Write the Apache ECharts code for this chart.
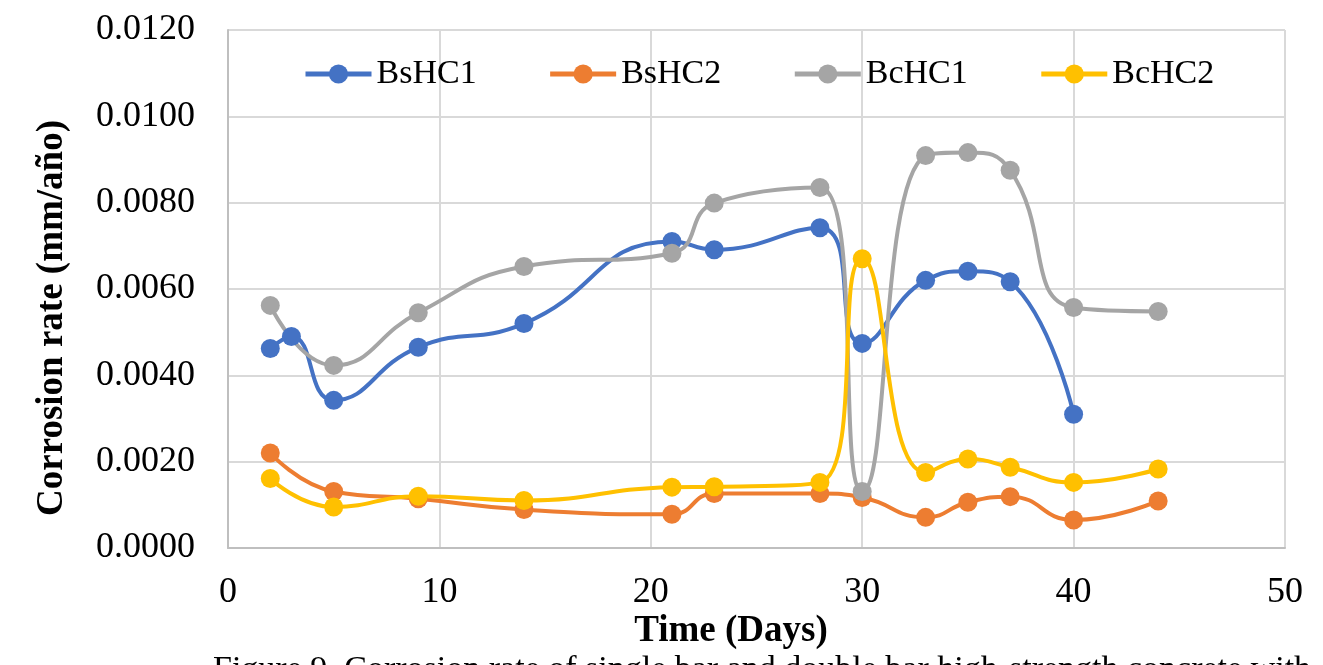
<!DOCTYPE html>
<html>
<head>
<meta charset="utf-8">
<script src="https://cdn.jsdelivr.net/npm/echarts@6/dist/echarts.min.js"></script>
<style>
  html, body { margin: 0; padding: 0; background: #fff; }
  #chart { width: 1323px; height: 665px; }
</style>
</head>
<body>
<div id="chart"></div>
<script>
var daysBsHC1 = [2, 3, 5, 9, 14, 21, 23, 28, 30, 33, 35, 37, 40];
var daysOther = [2, 5, 9, 14, 21, 23, 28, 30, 33, 35, 37, 40, 44];

var bsHC1 = [0.00462, 0.00490, 0.00342, 0.00465, 0.00520, 0.00710, 0.00691, 0.00742, 0.00474, 0.00620, 0.00641, 0.00617, 0.00310];
var bsHC2 = [0.00220, 0.00131, 0.00114, 0.00089, 0.00078, 0.00126, 0.00126, 0.00117, 0.00071, 0.00106, 0.00119, 0.00065, 0.00109];
var bcHC1 = [0.00562, 0.00423, 0.00545, 0.00652, 0.00683, 0.00799, 0.00835, 0.00131, 0.00909, 0.00916, 0.00875, 0.00557, 0.00548];
var bcHC2 = [0.00161, 0.00095, 0.00120, 0.00110, 0.00141, 0.00142, 0.00152, 0.00670, 0.00175, 0.00206, 0.00187, 0.00152, 0.00183];

var names = ['BsHC1', 'BsHC2', 'BcHC1', 'BcHC2'];
var colors = ['#4472C4', '#ED7D31', '#A5A5A5', '#FFC000'];
var xTitle = 'Time (Days)';
var yTitle = 'Corrosion rate (mm/año)';
var caption = 'Figure 9. Corrosion rate of single bar and double bar high-strength concrete with';

function pairs(days, vals) {
    return days.map(function (d, k) { return [d, vals[k]]; });
}

var serif = '"Liberation Serif", "Times New Roman", serif';

function lineSeries(name, color, data) {
    return {
        name: name,
        type: 'line',
        smooth: 0.5,
        symbol: 'circle',
        symbolSize: 19,
        data: data,
        lineStyle: { color: color, width: 4 },
        itemStyle: { color: color },
        emphasis: { disabled: true }
    };
}

var myChart = echarts.init(document.getElementById('chart'));

var option = {
    animation: false,
    textStyle: { fontFamily: serif },
    grid: { left: 228, right: 38, top: 30, bottom: 117 },
    legend: {
        left: 298,
        top: 52,
        itemWidth: 66,
        itemHeight: 24,
        itemGap: 71,
        lineStyle: { width: 5 },
        textStyle: { fontFamily: serif, fontSize: 34, color: '#000' },
        data: names
    },
    xAxis: {
        type: 'value',
        min: 0,
        max: 50,
        interval: 10,
        axisLine: { show: true, lineStyle: { color: '#bfbfbf', width: 2 } },
        axisTick: { show: false },
        axisLabel: { fontFamily: serif, fontSize: 36, color: '#000', margin: 27 },
        splitLine: { show: true, lineStyle: { color: '#d9d9d9', width: 2 } }
    },
    yAxis: {
        type: 'value',
        min: 0,
        max: 0.012,
        interval: 0.002,
        axisLine: { show: true, lineStyle: { color: '#bfbfbf', width: 2 } },
        axisTick: { show: false },
        axisLabel: {
            fontFamily: serif, fontSize: 36, color: '#000', margin: 33,
            formatter: function (v) { return v.toFixed(4); }
        },
        splitLine: { show: true, lineStyle: { color: '#d9d9d9', width: 2 } }
    },
    graphic: [{
        type: 'text',
        x: 52,
        y: 318,
        rotation: Math.PI / 2,
        style: {
            text: yTitle, fontFamily: serif, fontSize: 37, fontWeight: 'bold', fill: '#000',
            align: 'center', verticalAlign: 'middle'
        }
    }, {
        type: 'text',
        x: 731,
        y: 631,
        style: {
            text: xTitle, fontFamily: serif, fontSize: 37, fontWeight: 'bold', fill: '#000',
            align: 'center', verticalAlign: 'middle'
        }
    }, {
        type: 'text',
        x: 213,
        y: 653,
        style: { text: caption, fontFamily: serif, fontSize: 34, fill: '#000' }
    }],
    series: [
        lineSeries(names[0], colors[0], pairs(daysBsHC1, bsHC1)),
        lineSeries(names[1], colors[1], pairs(daysOther, bsHC2)),
        lineSeries(names[2], colors[2], pairs(daysOther, bcHC1)),
        lineSeries(names[3], colors[3], pairs(daysOther, bcHC2))
    ]
};

myChart.setOption(option);
</script>
</body>
</html>
